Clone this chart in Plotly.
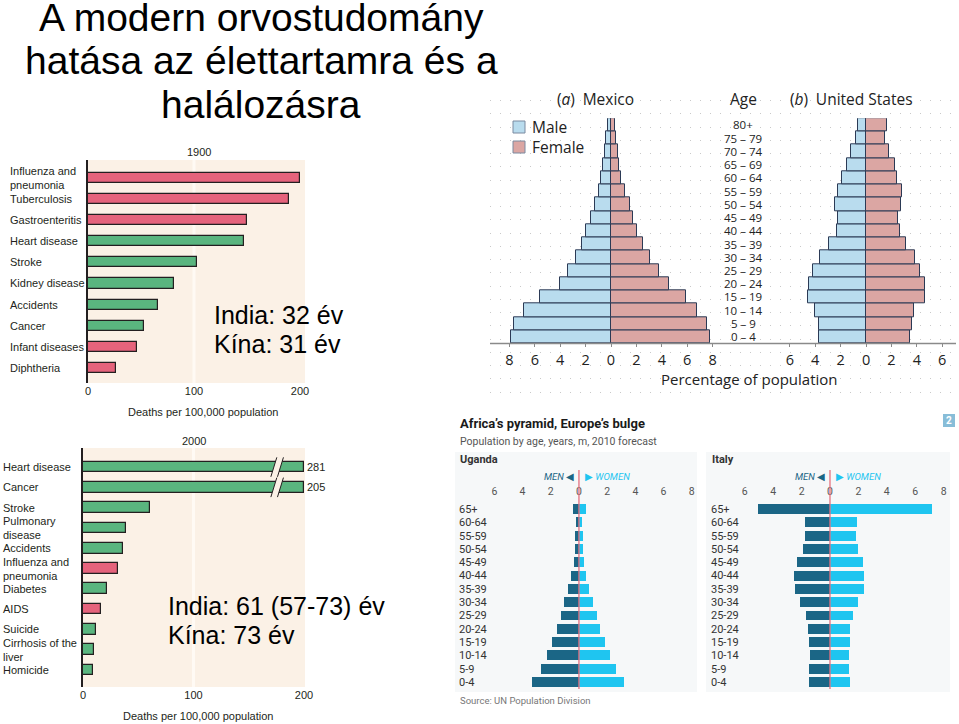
import plotly.graph_objects as go

W, H = 959, 724
def X(px): return px / W
def Y(py): return 1 - py / H

# ---------------- data ----------------
title_lines = ["A modern orvostudomány", "hatása az élettartamra és a", "halálozásra"]

causes_1900 = ["Influenza and<br>pneumonia", "Tuberculosis", "Gastroenteritis", "Heart disease",
               "Stroke", "Kidney disease", "Accidents", "Cancer", "Infant diseases", "Diphtheria"]
deaths_1900 = [200, 190, 150, 147, 103, 81, 66, 53, 46, 26]
infectious_1900 = [True, True, True, False, False, False, False, False, True, True]

causes_2000 = ["Heart disease", "Cancer", "Stroke", "Pulmonary<br>disease", "Accidents",
               "Influenza and<br>pneumonia", "Diabetes", "AIDS", "Suicide",
               "Cirrhosis of the<br>liver", "Homicide"]
deaths_2000 = [281, 205, 61, 39, 36, 32, 22, 16, 12, 10, 9]
infectious_2000 = [False, False, False, False, False, True, False, True, False, False, False]
axis_break_2000 = 200

death_ticks = [0, 100, 200]
death_axis_title = "Deaths per 100,000 population"

life_1900 = ["India: 32 év", "Kína: 31 év"]
life_2000 = ["India: 61 (57-73) év", "Kína: 73 év"]

sex_names = ["Male", "Female"]
ages_5yr = ["0 – 4", "5 – 9", "10 – 14", "15 – 19", "20 – 24", "25 – 29", "30 – 34", "35 – 39",
            "40 – 44", "45 – 49", "50 – 54", "55 – 59", "60 – 64", "65 – 69", "70 – 74",
            "75 – 79", "80+"]
mex_male = [7.85, 7.62, 6.83, 5.63, 4.03, 3.38, 2.75, 2.28, 1.94, 1.55, 1.23, 0.97, 0.80,
            0.65, 0.50, 0.37, 0.26]
mex_female = [7.80, 7.54, 6.81, 5.89, 4.53, 3.74, 3.04, 2.49, 2.04, 1.70, 1.47, 1.10, 0.80,
              0.65, 0.52, 0.39, 0.29]
us_male = [3.67, 3.67, 3.98, 4.56, 4.48, 4.17, 3.62, 2.88, 2.30, 2.20, 2.46, 2.20, 1.86,
           1.49, 1.18, 0.79, 0.60]
us_female = [3.43, 3.59, 3.77, 4.64, 4.66, 4.22, 3.82, 3.17, 2.67, 2.52, 2.72, 2.86, 2.46,
             2.25, 1.81, 1.47, 1.68]
mex_ticks = [-8, -6, -4, -2, 0, 2, 4, 6, 8]
us_ticks = [-6, -4, -2, 0, 2, 4, 6]

ages_econ = ["0-4", "5-9", "10-14", "15-19", "20-24", "25-29", "30-34", "35-39", "40-44",
             "45-49", "50-54", "55-59", "60-64", "65+"]
uga_men = [3.31, 2.72, 2.29, 1.91, 1.56, 1.28, 1.04, 0.78, 0.57, 0.38, 0.31, 0.26, 0.21, 0.40]
uga_women = [3.22, 2.65, 2.22, 1.84, 1.51, 1.25, 0.97, 0.73, 0.50, 0.35, 0.31, 0.28, 0.24, 0.47]
ita_men = [1.46, 1.46, 1.42, 1.46, 1.53, 1.72, 2.08, 2.45, 2.50, 2.31, 1.93, 1.79, 1.79, 5.09]
ita_women = [1.42, 1.37, 1.34, 1.42, 1.44, 1.63, 1.98, 2.36, 2.43, 2.31, 1.98, 1.86, 1.91, 7.15]
econ_ticks = [-6, -4, -2, 0, 2, 4, 6, 8]

# ---------------- styles ----------------
PINK = "#e5637c"
GREEN = "#5ab57f"
OUTLINE = "#231f20"
CREAM = "#fbf1e6"
ARIAL = "Liberation Sans, Arial, sans-serif"
MYRIAD = "Open Sans, sans-serif"
ECON = "Roboto, sans-serif"
MALE_C = "#b9dcee"
FEMALE_C = "#dba6a3"
PYR_LINE = "#2b3a55"
MEN_C = "#1b6686"
WOMEN_C = "#1fc5f0"

fig = go.Figure()

# background dotted grid subplot (x / y)
fig.add_trace(go.Scatter(x=[], y=[], xaxis="x", yaxis="y", showlegend=False))

# chart 1900
fig.add_trace(go.Bar(
    x=deaths_1900, y=list(range(len(causes_1900))), orientation="h",
    xaxis="x2", yaxis="y2", width=0.48, showlegend=False,
    marker=dict(color=[PINK if f else GREEN for f in infectious_1900],
                line=dict(color=OUTLINE, width=1.2)),
    hovertext=causes_1900, hoverinfo="text+x"))

# chart 2000 (values beyond the axis break are drawn to the break)
fig.add_trace(go.Bar(
    x=[min(v, axis_break_2000) for v in deaths_2000], y=list(range(len(causes_2000))),
    orientation="h", xaxis="x3", yaxis="y3", width=0.53, showlegend=False,
    marker=dict(color=[PINK if f else GREEN for f in infectious_2000],
                line=dict(color=OUTLINE, width=1.2)),
    customdata=deaths_2000, hovertemplate="%{customdata}<extra></extra>"))

# Mexico / US
idx5 = list(range(len(ages_5yr)))
for vals, sign, col, ax, nm in [(mex_male, -1, MALE_C, "4", sex_names[0]),
                                (mex_female, 1, FEMALE_C, "4", sex_names[1]),
                                (us_male, -1, MALE_C, "5", sex_names[0]),
                                (us_female, 1, FEMALE_C, "5", sex_names[1])]:
    fig.add_trace(go.Bar(x=[sign * v for v in vals], y=idx5, orientation="h",
                         xaxis="x" + ax, yaxis="y" + ax, width=1, name=nm,
                         marker=dict(color=col, line=dict(color=PYR_LINE, width=1)),
                         showlegend=False))

# Uganda / Italy
idxe = list(range(len(ages_econ)))
for xs, c, ax in [([-v for v in uga_men], MEN_C, "6"), (uga_women, WOMEN_C, "6"),
                  ([-v for v in ita_men], MEN_C, "7"), (ita_women, WOMEN_C, "7")]:
    fig.add_trace(go.Bar(x=xs, y=idxe, orientation="h", xaxis="x" + ax, yaxis="y" + ax, width=0.75,
                         marker=dict(color=c, line=dict(width=0)), showlegend=False))

shapes = []
annotations = []

def ann(text, x, y, size, color="#111", family=ARIAL, xanchor="center", yanchor="middle", **kw):
    annotations.append(dict(text=text, x=X(x), y=Y(y), xref="paper", yref="paper",
                            xanchor=xanchor, yanchor=yanchor, showarrow=False,
                            font=dict(size=size, color=color, family=family), **kw))

# ---- slide title
for line, cy in zip(title_lines, [17, 61, 105]):
    ann(line, 261, cy, 39, color="#000")

# ---- cream backgrounds for death charts
shapes.append(dict(type="rect", xref="paper", yref="paper", x0=X(88), x1=X(305), y0=Y(383), y1=Y(160),
                   fillcolor=CREAM, line=dict(width=0), layer="below"))
shapes.append(dict(type="rect", xref="paper", yref="paper", x0=X(83), x1=X(305), y0=Y(687), y1=Y(448),
                   fillcolor=CREAM, line=dict(width=0), layer="below"))
shapes.append(dict(type="line", xref="x2", yref="paper", x0=100, x1=100, y0=Y(383), y1=Y(160),
                   line=dict(color="#fffaf4", width=3), layer="below"))
shapes.append(dict(type="line", xref="x3", yref="paper", x0=100, x1=100, y0=Y(687), y1=Y(448),
                   line=dict(color="#fffaf4", width=3), layer="below"))

# category labels
for i, c in enumerate(causes_1900):
    annotations.append(dict(text=c, x=X(8), y=i, xref="paper", yref="y2", xanchor="left",
                            yanchor="middle", align="left", showarrow=False,
                            font=dict(size=11, color="#231f20", family=ARIAL)))
for i, c in enumerate(causes_2000):
    annotations.append(dict(text=c, x=X(1), y=i, xref="paper", yref="y3", xanchor="left",
                            yanchor="middle", align="left", showarrow=False,
                            font=dict(size=11, color="#231f20", family=ARIAL)))

# axis break marks and values beyond the break
for i, v in enumerate(deaths_2000):
    if v > axis_break_2000:
        xa, dx, gap = 170.0, 5.4, 6.0
        y_lo, y_hi = i + 0.48, i - 0.48
        shapes.append(dict(type="path", xref="x3", yref="y3",
                           path=f"M{xa},{y_lo} L{xa+dx},{y_hi} L{xa+dx+gap},{y_hi} L{xa+gap},{y_lo} Z",
                           fillcolor=CREAM, line=dict(width=0)))
        for x0 in (xa, xa + gap):
            shapes.append(dict(type="line", xref="x3", yref="y3", x0=x0, y0=y_lo, x1=x0 + dx, y1=y_hi,
                               line=dict(color=OUTLINE, width=1)))
        annotations.append(dict(text=str(v), x=axis_break_2000, y=i, xref="x3", yref="y3",
                                xanchor="left", yanchor="middle", xshift=1, showarrow=False,
                                font=dict(size=11, color="#231f20", family=ARIAL)))

ann("1900", 199, 152, 11, color="#231f20")
ann("2000", 194, 441, 11, color="#231f20")
ann(death_axis_title, 203, 412, 11, color="#231f20")
ann(death_axis_title, 198, 716, 11, color="#231f20")

for t, cy in zip(life_1900, [315, 344]):
    ann(t, 212, cy, 25, color="#000", xanchor="left")
for t, cy in zip(life_2000, [606, 635]):
    ann(t, 166, cy, 25, color="#000", xanchor="left")

# ---- Mexico / US
shapes.append(dict(type="line", xref="paper", yref="paper", x0=X(490), x1=X(956), y0=Y(343.5), y1=Y(343.5),
                   line=dict(color="#8a8a8a", width=1.5)))
for i, a in enumerate(ages_5yr):
    annotations.append(dict(text=a, x=X(743), y=i, xref="paper", yref="y4", xanchor="center",
                            yanchor="middle", showarrow=False, borderpad=0,
                            font=dict(size=11.5, color="#222", family=MYRIAD)))
ann("(<i>a</i>)\u2002Mexico", 595, 99, 15.5, color="#222", family=MYRIAD)
ann("Age", 743, 99, 15.5, color="#222", family=MYRIAD)
ann("(<i>b</i>)\u2002United States", 851, 99, 15.5, color="#222", family=MYRIAD)
ann("Percentage of population", 749, 378.5, 15, color="#222", family=MYRIAD, borderpad=0)
# key
for nm, col, cy in [(sex_names[0], MALE_C, 127), (sex_names[1], FEMALE_C, 147)]:
    shapes.append(dict(type="rect", xref="paper", yref="paper", x0=X(513), x1=X(525),
                       y0=Y(cy + 6), y1=Y(cy - 6), fillcolor=col, line=dict(color="#7a8aa0", width=1)))
    ann(nm, 530, cy, 15.5, color="#222", family=MYRIAD, xanchor="left")

# ---- Economist panel
shapes.append(dict(type="rect", xref="paper", yref="paper", x0=X(455), x1=X(697), y0=Y(692), y1=Y(452),
                   fillcolor="#f6f8f9", line=dict(width=0), layer="below"))
shapes.append(dict(type="rect", xref="paper", yref="paper", x0=X(706), x1=X(950), y0=Y(692), y1=Y(452),
                   fillcolor="#f6f8f9", line=dict(width=0), layer="below"))
for ax in ("x6", "x7"):
    shapes.append(dict(type="line", xref=ax, yref="paper", x0=0, x1=0, y0=Y(689), y1=Y(470),
                       line=dict(color="#e5707f", width=1.3)))
shapes.append(dict(type="rect", xref="paper", yref="paper", x0=X(943), x1=X(955), y0=Y(427), y1=Y(414),
                   fillcolor="#88bdd8", line=dict(width=0)))
ann("<b>2</b>", 949, 420.5, 10, color="white", family=ECON)
ann("<b>Africa’s pyramid, Europe’s bulge</b>", 458, 423, 13, color="#1a1a1a", family=ECON, xanchor="left")
ann("Population by age, years, m, 2010 forecast", 458, 441, 10.5, color="#555", family=ECON, xanchor="left")
ann("<b>Uganda</b>", 458, 459, 11, color="#333", family=ECON, xanchor="left")
ann("<b>Italy</b>", 710, 459, 11, color="#333", family=ECON, xanchor="left")
for cx in (579, 830):
    ann("<i>MEN</i> ◀", cx - 3, 477, 9.5, color=MEN_C, family=ECON, xanchor="right")
    ann("▶ <i>WOMEN</i>", cx + 4, 477, 9.5, color=WOMEN_C, family=ECON, xanchor="left")
ann("Source: UN Population Division", 458, 700, 9.5, color="#777", family=ECON, xanchor="left")

def noaxis(**kw):
    d = dict(showgrid=False, zeroline=False, showline=False, ticks="", showticklabels=False,
             fixedrange=True, automargin=False)
    d.update(kw)
    return d

fig.update_layout(
    width=W, height=H, autosize=False, margin=dict(l=0, r=0, t=0, b=0, autoexpand=False),
    paper_bgcolor="white", plot_bgcolor="rgba(0,0,0,0)",
    barmode="overlay", bargap=0, showlegend=False,
    shapes=shapes, annotations=annotations,
    xaxis=noaxis(domain=[X(490), X(957)], range=[0, 467], anchor="y"),
    yaxis=noaxis(domain=[Y(395), Y(87)], range=[0, 308], anchor="x", showgrid=True,
                 tick0=3, dtick=13.24, gridcolor="#c9c9c9", gridwidth=1, griddash="1px,9px"),
    xaxis2=noaxis(domain=[X(88), X(305)], range=[0, 204.7], anchor="y2", showticklabels=True,
                  tickvals=death_ticks, tickfont=dict(size=11, color="#231f20", family=ARIAL)),
    yaxis2=noaxis(domain=[Y(383), Y(160)], range=[9.71, -0.84], anchor="x2",
                  showline=True, linecolor=OUTLINE, linewidth=1.5),
    xaxis3=noaxis(domain=[X(83), X(305)], range=[0, 200.9], anchor="y3", showticklabels=True,
                  tickvals=death_ticks, tickfont=dict(size=11, color="#231f20", family=ARIAL)),
    yaxis3=noaxis(domain=[Y(687), Y(448)], range=[10.84, -0.94], anchor="x3",
                  showline=True, linecolor=OUTLINE, linewidth=1.5),
    xaxis4=noaxis(domain=[X(500), X(722)], range=[-8.74, 8.74], anchor="y4", showticklabels=True,
                  tickvals=mex_ticks, ticktext=[str(abs(t)) for t in mex_ticks],
                  ticks="outside", ticklen=3, tickcolor="#8a8a8a",
                  tickfont=dict(size=14.5, color="#222", family=MYRIAD)),
    yaxis4=noaxis(domain=[Y(343.3), Y(118.3)], range=[-0.5, 16.5], anchor="x4"),
    xaxis5=noaxis(domain=[X(775), X(955)], range=[-7.17, 7.01], anchor="y5", showticklabels=True,
                  tickvals=us_ticks, ticktext=[str(abs(t)) for t in us_ticks],
                  ticks="outside", ticklen=3, tickcolor="#8a8a8a",
                  tickfont=dict(size=14.5, color="#222", family=MYRIAD)),
    yaxis5=noaxis(domain=[Y(343.3), Y(118.3)], range=[-0.5, 16.5], anchor="x5"),
    xaxis6=noaxis(domain=[X(456), X(695)], range=[-8.72, 8.23], anchor="y6", side="top",
                  showticklabels=True, tickvals=econ_ticks, ticktext=[str(abs(t)) for t in econ_ticks],
                  tickfont=dict(size=10.5, color="#555", family=ECON)),
    yaxis6=noaxis(domain=[Y(692), Y(498)], range=[-0.75, 13.83], anchor="x6", showticklabels=True,
                  tickvals=idxe, ticktext=ages_econ, ticklabelposition="inside",
                  tickfont=dict(size=11, color="#333", family=ECON)),
    xaxis7=noaxis(domain=[X(708), X(947)], range=[-8.59, 8.24], anchor="y7", side="top",
                  showticklabels=True, tickvals=econ_ticks, ticktext=[str(abs(t)) for t in econ_ticks],
                  tickfont=dict(size=10.5, color="#555", family=ECON)),
    yaxis7=noaxis(domain=[Y(692), Y(498)], range=[-0.75, 13.83], anchor="x7", showticklabels=True,
                  tickvals=idxe, ticktext=ages_econ, ticklabelposition="inside",
                  tickfont=dict(size=11, color="#333", family=ECON)),
)

fig.write_html("out.html", config={"responsive": False, "displayModeBar": False},
               post_script="document.body.style.margin='0';document.body.style.overflow='hidden';")
